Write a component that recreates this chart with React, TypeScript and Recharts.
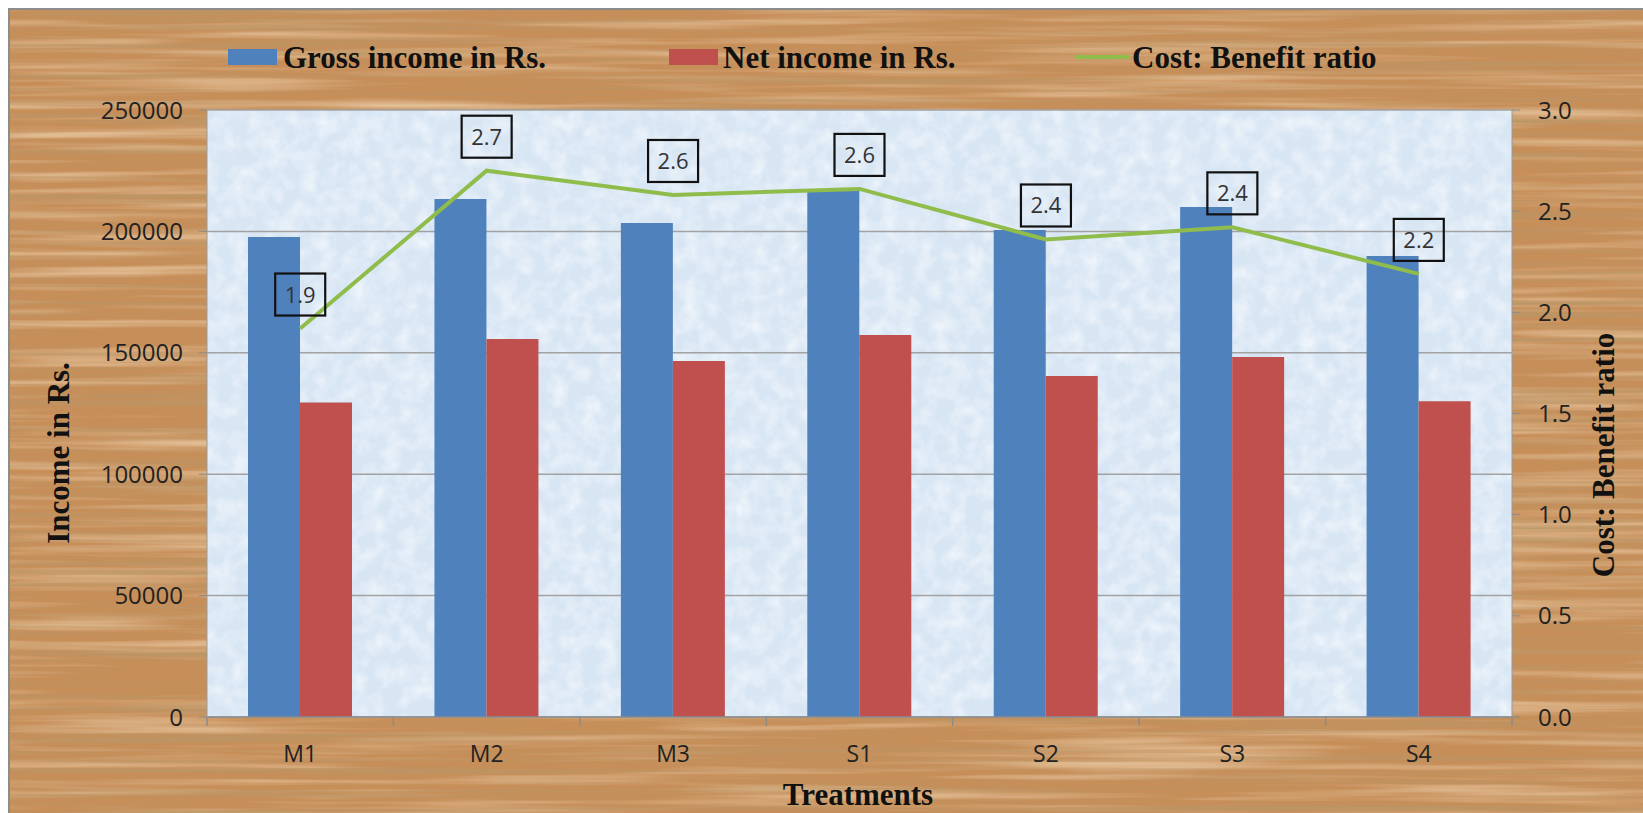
import { ComposedChart, Bar, Line, XAxis, YAxis, CartesianGrid, LabelList } from "recharts";

const treatments = ["M1", "M2", "M3", "S1", "S2", "S3", "S4"];
const grossIncome = [197700, 213300, 203500, 217100, 200600, 210000, 189900];
const netIncome = [129500, 155700, 146600, 157300, 140400, 148300, 130000];
const costBenefit = [1.92, 2.7, 2.58, 2.61, 2.36, 2.42, 2.19];
const incomeTicks = [0, 50000, 100000, 150000, 200000, 250000];
const ratioTicks = [0, 0.5, 1, 1.5, 2, 2.5, 3];

const data = treatments.map((treatment, i) => ({
  treatment,
  gross: grossIncome[i],
  net: netIncome[i],
  ratio: costBenefit[i],
}));

const W = 1643;
const H = 813;
const TICK_FONT = "'Open Sans', 'DejaVu Sans', sans-serif";
const TITLE_FONT = "'Liberation Serif', 'DejaVu Serif', serif";

// category labels plus Excel-style tick marks on the band edges
function TreatmentTick(props: any) {
  const { x, y, payload, index, visibleTicksCount } = props;
  const half = payload?.offset || 93;
  const last = index === visibleTicksCount - 1;
  return (
    <g>
      <line x1={x - half} x2={x - half} y1={y} y2={y + 9} stroke="#8c8c8c" strokeWidth={1.5} />
      {last && <line x1={x + half} x2={x + half} y1={y} y2={y + 9} stroke="#8c8c8c" strokeWidth={1.5} />}
      <text x={x} y={y + 45} textAnchor="middle" fontFamily={TICK_FONT} fontSize={23} fill="#222">
        {payload.value}
      </text>
    </g>
  );
}

// boxed value above each point of the ratio line
function RatioLabel(props: any) {
  const { x, y, value } = props;
  if (x == null || y == null) return null;
  const cy = y - 34;
  return (
    <g>
      <rect x={x - 25} y={cy - 21} width={50} height={42} fill="none" stroke="#111" strokeWidth={2.2} />
      <text x={x} y={cy + 8} textAnchor="middle" fontFamily={TICK_FONT} fontSize={22} fill="#333">
        {Number(value).toFixed(1)}
      </text>
    </g>
  );
}

function Backdrop() {
  return (
    <svg width={W} height={H} style={{ position: "absolute", left: 0, top: 0 }}>
      <defs>
        <filter id="woodDark" x="0" y="0" width="100%" height="100%">
          <feTurbulence type="fractalNoise" baseFrequency="0.0018 0.16" numOctaves="4" seed="7" />
          <feColorMatrix
            type="matrix"
            values="0 0 0 0 0.5  0 0 0 0 0.3  0 0 0 0 0.13  2.6 0 0 0 -1.22"
          />
        </filter>
        <filter id="woodLight" x="0" y="0" width="100%" height="100%">
          <feTurbulence type="fractalNoise" baseFrequency="0.003 0.1" numOctaves="3" seed="21" />
          <feColorMatrix
            type="matrix"
            values="0 0 0 0 0.88  0 0 0 0 0.68  0 0 0 0 0.46  0 1.6 0 0 -0.72"
          />
        </filter>
        <filter id="paperNoise" x="0" y="0" width="100%" height="100%">
          <feTurbulence type="fractalNoise" baseFrequency="0.06" numOctaves="3" seed="4" />
          <feColorMatrix
            type="matrix"
            values="0 0 0 0 1  0 0 0 0 1  0 0 0 0 1  1.1 0 0 0 -0.42"
          />
        </filter>
        <pattern id="paper" patternUnits="userSpaceOnUse" x="0" y="0" width={W} height={H}>
          <rect width={W} height={H} fill="#d8e6f4" />
          <rect width={W} height={H} filter="url(#paperNoise)" />
        </pattern>
      </defs>
      <rect width={W} height={H} fill="#ffffff" />
      <rect x={9} y={9} width={W - 9} height={H - 9} fill="#c68e59" />
      <rect x={9} y={9} width={W - 9} height={H - 9} filter="url(#woodLight)" />
      <rect x={9} y={9} width={W - 9} height={H - 9} filter="url(#woodDark)" />
      <path d={`M9 ${H} V9 H${W}`} fill="none" stroke="#8c8c8c" strokeWidth={2} />
    </svg>
  );
}

function Overlay() {
  const title = { fontFamily: TITLE_FONT, fontWeight: 700, fontSize: 31, fill: "#111" } as const;
  return (
    <svg width={W} height={H} style={{ position: "absolute", left: 0, top: 0, pointerEvents: "none" }}>
      <rect x={228} y={49} width={49} height={16} fill="#4f81bd" />
      <text x={283} y={68} {...title}>Gross income in Rs.</text>
      <rect x={669} y={49} width={49} height={16} fill="#c0504d" />
      <text x={723} y={68} {...title}>Net income in Rs.</text>
      <line x1={1075} x2={1129} y1={57} y2={57} stroke="#8fbc4b" strokeWidth={4} />
      <text x={1132} y={68} {...title}>Cost: Benefit ratio</text>
      <text x={58} y={453} textAnchor="middle" dominantBaseline="central" transform="rotate(-90 58 453)" {...title}>
        Income in Rs.
      </text>
      <text x={1603} y={455} textAnchor="middle" dominantBaseline="central" transform="rotate(-90 1603 455)" {...title}>
        Cost: Benefit ratio
      </text>
      <text x={858} y={805} textAnchor="middle" {...title}>Treatments</text>
    </svg>
  );
}

export default function App() {
  const tick = { fontFamily: TICK_FONT, fontSize: 24, fill: "#222" };
  return (
    <div style={{ position: "relative", width: W, height: H, overflow: "hidden" }}>
      <style>{"body{margin:0}"}</style>
      <Backdrop />
      <div style={{ position: "absolute", left: 0, top: 0 }}>
        <ComposedChart
          width={W}
          height={H}
          data={data}
          margin={{ top: 110, right: 51, bottom: 36, left: 127 }}
          barCategoryGap="22%"
          barGap={0}
        >
          <CartesianGrid yAxisId="income" vertical={false} stroke="#a2a2a2" strokeWidth={1.5} fill="url(#paper)" fillOpacity={1} />
          <XAxis
            dataKey="treatment"
            height={60}
            tickLine={false}
            tickSize={0}
            tickMargin={0}
            axisLine={{ stroke: "#8c8c8c", strokeWidth: 1.5 }}
            tick={<TreatmentTick />}
            interval={0}
          />
          <YAxis
            yAxisId="income"
            width={80}
            domain={[0, 250000]}
            ticks={incomeTicks}
            interval={0}
            tickSize={8}
            tickMargin={16}
            tick={tick}
            tickLine={{ stroke: "#8c8c8c" }}
            axisLine={{ stroke: "#9a9a9a" }}
          />
          <YAxis
            yAxisId="ratio"
            orientation="right"
            width={80}
            domain={[0, 3]}
            ticks={ratioTicks}
            interval={0}
            tickFormatter={(v: number) => v.toFixed(1)}
            tickSize={8}
            tickMargin={18}
            tick={{ ...tick, textAnchor: "start" }}
            tickLine={{ stroke: "#8c8c8c" }}
            axisLine={{ stroke: "#9a9a9a" }}
          />
          <Bar yAxisId="income" dataKey="gross" fill="#4f81bd" isAnimationActive={false} />
          <Bar yAxisId="income" dataKey="net" fill="#c0504d" isAnimationActive={false} />
          <Line
            yAxisId="ratio"
            dataKey="ratio"
            type="linear"
            stroke="#8fbc4b"
            strokeWidth={4}
            dot={false}
            activeDot={false}
            isAnimationActive={false}
          >
            <LabelList dataKey="ratio" content={<RatioLabel />} />
          </Line>
        </ComposedChart>
      </div>
      <Overlay />
    </div>
  );
}
